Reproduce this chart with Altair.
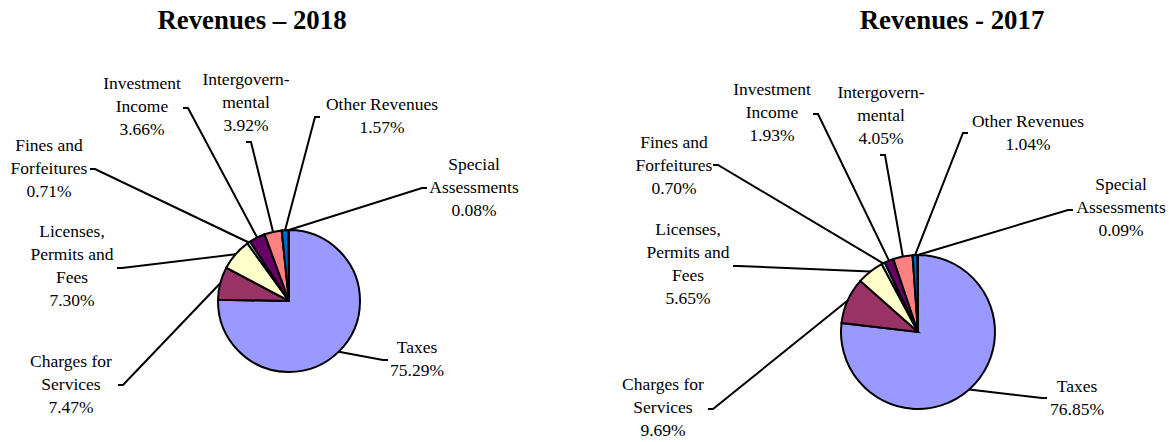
import math
import altair as alt
import pandas as pd

# ---------------- data ----------------
categories = ["Taxes", "Charges for Services", "Licenses, Permits and Fees",
              "Fines and Forfeitures", "Investment Income", "Intergovernmental",
              "Other Revenues", "Special Assessments"]
label_lines = [["Taxes"], ["Charges for", "Services"], ["Licenses,", "Permits and", "Fees"],
               ["Fines and", "Forfeitures"], ["Investment", "Income"],
               ["Intergovern-", "mental"], ["Other Revenues"], ["Special", "Assessments"]]
values_2018 = [75.29, 7.47, 7.30, 0.71, 3.66, 3.92, 1.57, 0.08]
values_2017 = [76.85, 9.69, 5.65, 0.70, 1.93, 4.05, 1.04, 0.09]
colors = ["#9999FF", "#993366", "#FFFFCC", "#CCFFFF", "#660066", "#FF8080", "#0066CC", "#CCCCFF"]
titles = ["Revenues \u2013 2018", "Revenues - 2017"]

# ---------------- layout (pixels) ----------------
W, H = 1170, 442
LINE_H = 23
LAYOUT = [
    dict(values=values_2018, title=titles[0], cx=289, cy=301, r=71, tx=252, ty=29,
         labels=[(417, 353), (71, 367), (72, 237), (49, 151), (142, 89), (246, 85), (382, 110), (474, 170)],
         anchors=[(388, 360), (118, 385), (117, 268), (90, 169), (183, 108), (246, 142), (320, 117), (427, 188)]),
    dict(values=values_2017, title=titles[1], cx=918, cy=332, r=77, tx=952, ty=29,
         labels=[(1077, 392), (663, 390), (688, 235), (674, 148), (772, 95), (881, 98), (1028, 127), (1121, 190)],
         anchors=[(1047, 398), (708, 409), (733, 266), (713, 165), (813, 114), (880, 155), (968, 133), (1073, 210)]),
]

xs = alt.Scale(domain=[0, W], nice=False, zero=False)
ys = alt.Scale(domain=[0, H], nice=False, zero=False, reverse=True)
FONT = "Liberation Serif"

layers = []
for p, L in enumerate(LAYOUT):
    vals = L["values"]
    df = pd.DataFrame({"category": categories, "value": vals, "idx": list(range(len(vals)))})
    pie = alt.Chart(df).mark_arc(radius=L["r"], stroke="black", strokeWidth=2).encode(
        theta=alt.Theta("value:Q", stack=True),
        order=alt.Order("idx:Q", sort="ascending"),
        color=alt.Color("category:N", scale=alt.Scale(domain=categories, range=colors), legend=None),
        x=alt.value(L["cx"]), y=alt.value(L["cy"]),
    )
    layers.append(pie)

    # leader lines: label anchor -> short tick -> slice edge at mid-angle
    total = sum(vals)
    cum = 0.0
    rows = []
    for i, v in enumerate(vals):
        mid = (cum + v / 2) / total
        cum += v
        ang = 2 * math.pi * mid
        ex = L["cx"] + L["r"] * math.sin(ang)
        ey = L["cy"] - L["r"] * math.cos(ang)
        ax, ay = L["anchors"][i]
        dx = 5 if ax < ex else -5
        key = f"{p}-{i}"
        rows += [dict(key=key, k=0, x=ax, y=ay), dict(key=key, k=1, x=ax + dx, y=ay),
                 dict(key=key, k=2, x=ex, y=ey)]
    ldf = pd.DataFrame(rows)
    layers.append(alt.Chart(ldf).mark_line(color="black", strokeWidth=2).encode(
        x=alt.X("x:Q", scale=xs, axis=None), y=alt.Y("y:Q", scale=ys, axis=None),
        detail="key:N", order="k:Q"))

    # labels: one layer per label, multi-line text
    for i, v in enumerate(vals):
        lx, ly = L["labels"][i]
        lines = label_lines[i] + [f"{v:.2f}%"]
        tdf = pd.DataFrame([dict(x=lx, y=ly, text="\n".join(lines))])
        layers.append(alt.Chart(tdf).mark_text(font=FONT, fontSize=17.5, color="black",
                                               align="center", baseline="alphabetic",
                                               lineBreak="\n", lineHeight=LINE_H).encode(
            x=alt.X("x:Q", scale=xs, axis=None), y=alt.Y("y:Q", scale=ys, axis=None), text="text:N"))

    tt = pd.DataFrame([dict(x=L["tx"], y=L["ty"], text=L["title"])])
    layers.append(alt.Chart(tt).mark_text(font=FONT, fontSize=26.8, fontWeight="bold", color="black",
                                          align="center", baseline="alphabetic").encode(
        x=alt.X("x:Q", scale=xs, axis=None), y=alt.Y("y:Q", scale=ys, axis=None), text="text:N"))

chart = alt.layer(*layers).resolve_scale(theta="independent").properties(
    width=W, height=H, padding=0, autosize=alt.AutoSizeParams(type="none"),
    background="white",
).configure_view(stroke=None)

chart.save("out.html", embed_options={"renderer": "svg", "actions": False})
